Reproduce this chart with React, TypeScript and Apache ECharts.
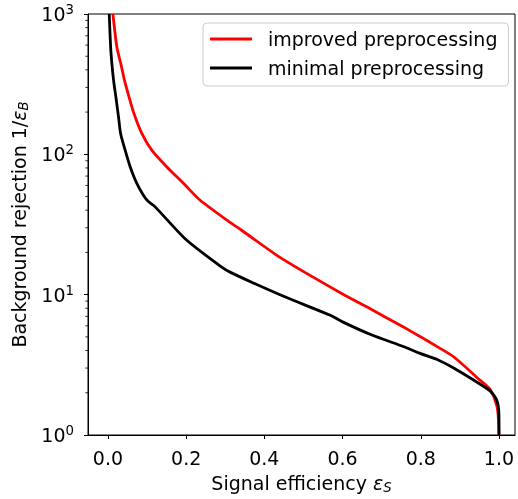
import React, { useEffect, useRef } from 'react';
import * as echarts from 'echarts';

// Signal efficiency (x) and background rejection 1/eps_B (y)
const effImproved = [0.0127, 0.0229, 0.0331, 0.0425, 0.0542, 0.067, 0.0866, 0.112, 0.150, 0.193, 0.235, 0.316, 0.341, 0.443, 0.600, 0.672, 0.757, 0.800, 0.842, 0.884, 0.952, 0.978, 0.995, 0.999, 1.0];
const rejImproved = [1000, 579, 440, 335, 255, 194, 141, 107, 81.6, 62.2, 47.3, 32.2, 28.9, 18.2, 10.1, 7.9, 5.85, 5.0, 4.26, 3.61, 2.45, 2.1, 1.59, 1.25, 1.0];

const effMinimal = [0.0033, 0.0069, 0.0102, 0.0145, 0.0204, 0.027, 0.0325, 0.044, 0.0568, 0.0738, 0.0993, 0.120, 0.201, 0.290, 0.316, 0.443, 0.570, 0.600, 0.672, 0.757, 0.800, 0.842, 0.884, 0.952, 0.978, 0.995, 1.0, 1.0];
const rejMinimal = [1000, 579, 440, 335, 255, 185, 140, 107, 81.6, 62.2, 47.3, 42.4, 24.5, 15.8, 14.3, 9.9, 7.1, 6.4, 5.2, 4.25, 3.8, 3.45, 3.0, 2.3, 2.05, 1.75, 1.35, 1.0];

const seriesNames = ['improved preprocessing', 'minimal preprocessing'];
const xTicks = [0, 0.2, 0.4, 0.6, 0.8, 1.0];
const yMinorTicks = [2, 3, 4, 5, 6, 7, 8, 9, 20, 30, 40, 50, 60, 70, 80, 90, 200, 300, 400, 500, 600, 700, 800, 900];

export default function App() {
  const ref = useRef<HTMLDivElement>(null);
  useEffect(() => {
    const chart = echarts.init(ref.current!, null, { renderer: 'svg' });
    const font = 'DejaVu Sans';
    const fs = 19;
    const lh = 22;
    const nameRich = {
      i: { fontStyle: 'italic', fontSize: fs, fontFamily: font, color: '#000', lineHeight: lh },
      s: { fontStyle: 'italic', fontSize: fs * 0.7, fontFamily: font, color: '#000', lineHeight: 14, verticalAlign: 'bottom' },
    };
    chart.setOption({
      animation: false,
      textStyle: { fontFamily: font },
      grid: { left: 86, right: 3, top: 14, bottom: 64, show: true, borderColor: '#000', borderWidth: 1 },
      xAxis: {
        type: 'value',
        min: -0.051,
        max: 1.041,
        axisLine: { show: true, onZero: false, lineStyle: { color: '#000', width: 1 } },
        axisTick: { show: true, customValues: xTicks, length: 4, lineStyle: { color: '#000', width: 1 } },
        axisLabel: { customValues: xTicks, formatter: (v: number) => v.toFixed(1), color: '#000', fontSize: fs, fontFamily: font, margin: 13 },
        splitLine: { show: false },
        name: 'Signal efficiency {i|ε}{s|S}',
        nameLocation: 'middle',
        nameGap: 36,
        nameTextStyle: { color: '#000', fontSize: fs, fontFamily: font, lineHeight: lh, rich: nameRich },
      },
      yAxis: {
        type: 'log',
        logBase: 10,
        min: 1,
        max: 1000,
        axisLine: { show: true, onZero: false, lineStyle: { color: '#000', width: 1 } },
        axisTick: { show: true, length: 4, lineStyle: { color: '#000', width: 1 } },
        minorTick: { show: false },
        splitLine: { show: false },
        axisLabel: {
          margin: 14,
          formatter: (v: number) => `{b|10}{e|${Math.round(Math.log10(v))}}`,
          rich: {
            b: { fontSize: fs, fontFamily: font, color: '#000', lineHeight: lh },
            e: { fontSize: fs * 0.7, fontFamily: font, color: '#000', lineHeight: 13, verticalAlign: 'top' },
          },
        },
        name: 'Background rejection 1/{i|ε}{s|B}',
        nameLocation: 'middle',
        nameRotate: 90,
        nameGap: 58,
        nameTextStyle: { color: '#000', fontSize: fs, fontFamily: font, lineHeight: lh, rich: nameRich },
      },
      legend: {
        data: seriesNames,
        orient: 'vertical',
        left: 203,
        top: 23,
        icon: 'rect',
        itemWidth: 42,
        itemHeight: 3,
        itemGap: 7,
        padding: [5, 11, 7, 7],
        backgroundColor: 'rgba(255,255,255,0.8)',
        borderColor: '#cccccc',
        borderWidth: 1,
        borderRadius: 4,
        textStyle: { fontSize: fs, fontFamily: font, color: '#000', lineHeight: lh, padding: [0, 0, 0, 11] },
      },
      series: [
        {
          name: seriesNames[0],
          type: 'line',
          data: effImproved.map((x, i) => [x, rejImproved[i]]),
          symbol: 'none',
          showSymbol: false,
          smooth: 0.25,
          lineStyle: { color: '#ff0000', width: 2.8 },
          itemStyle: { color: '#ff0000' },
          z: 3,
        },
        {
          name: seriesNames[1],
          type: 'line',
          data: effMinimal.map((x, i) => [x, rejMinimal[i]]),
          symbol: 'none',
          showSymbol: false,
          smooth: 0.25,
          lineStyle: { color: '#000000', width: 2.8 },
          itemStyle: { color: '#000000' },
          z: 4,
        },
        {
          type: 'custom',
          silent: true,
          clip: false,
          z: 5,
          data: yMinorTicks.map((v) => [0, v]),
          renderItem: (params: any, api: any) => {
            const p = api.coord([0, api.value(1)]);
            const x0 = params.coordSys.x;
            return {
              type: 'line',
              shape: { x1: x0, y1: p[1], x2: x0 - 2.7, y2: p[1] },
              style: { stroke: '#000', lineWidth: 0.8 },
            };
          },
        },
      ],
    });
    return () => chart.dispose();
  }, []);
  return <div ref={ref} style={{ position: 'fixed', left: 0, top: 0, width: 518, height: 499 }} />;
}
